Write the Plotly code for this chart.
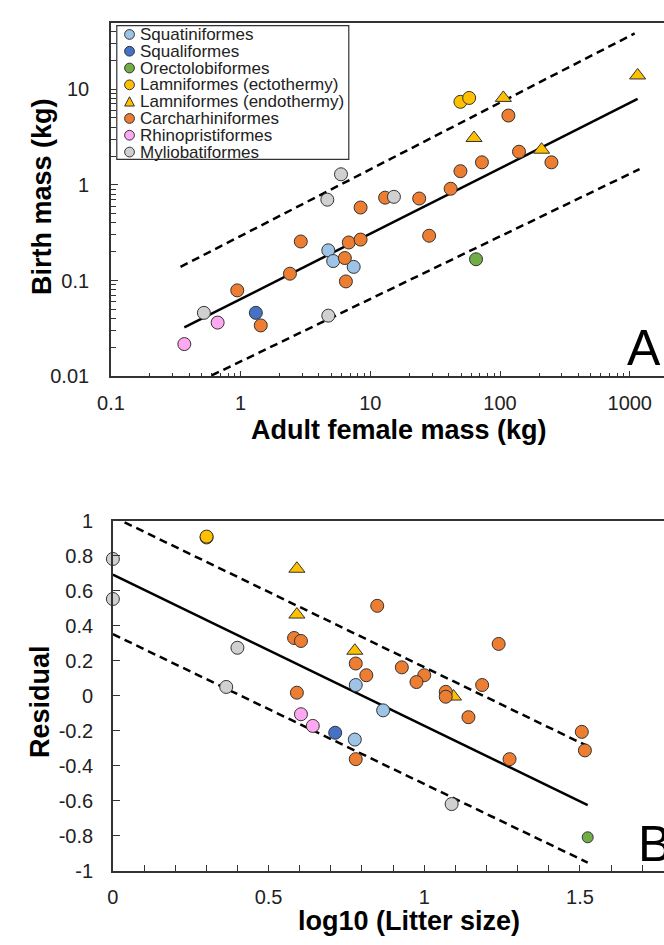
import plotly.graph_objects as go

# groups, colours and marker symbols
groups = ["Squatiniformes", "Squaliformes", "Orectolobiformes", "Lamniformes (ectothermy)",
          "Lamniformes (endothermy)", "Carcharhiniformes", "Rhinopristiformes", "Myliobatiformes"]
colors = ["#9DC3E6", "#4472C4", "#70AD47", "#FFC000", "#FFC000", "#ED7D31", "#FFA8F2", "#D0D0D0"]
symbols = ["circle", "circle", "circle", "circle", "triangle-up", "circle", "circle", "circle"]

# panel A: adult female mass (kg) vs birth mass (kg)
a_x = [
    [4.74, 5.17, 7.44],
    [1.31],
    [65.3],
    [49.5, 57.8],
    [63, 106, 209, 1150],
    [0.942, 1.43, 2.40, 2.91, 6.36, 6.48, 6.82, 8.41, 8.41, 13.0, 23.8, 28.4, 41.6, 49.5, 72.5, 116, 140, 249],
    [0.368, 0.665],
    [0.521, 4.74, 4.66, 5.94, 15.2],
]
a_y = [
    [0.207, 0.160, 0.139],
    [0.046],
    [0.167],
    [7.37, 8.09],
    [3.09, 8.1, 2.33, 13.9],
    [0.079, 0.034, 0.118, 0.256, 0.172, 0.098, 0.25, 0.268, 0.58, 0.735, 0.72, 0.294, 0.91, 1.39, 1.72, 5.3, 2.22, 1.72],
    [0.0217, 0.0364],
    [0.046, 0.043, 0.70, 1.29, 0.75],
]
a_fit_x = [0.368, 1150]
a_fit_y = [0.0324, 7.9]
a_up_x = [0.344, 1091]
a_up_y = [0.139, 38.2]
a_lo_x = [0.598, 1190]
a_lo_y = [0.0102, 1.46]

# panel B: log10(litter size) vs residual
b_x = [
    [0.78, 0.868, 0.777],
    [0.714],
    [1.525],
    [0.301, 0.301],
    [0.591, 0.591, 0.777, 1.094],
    [0.582, 0.604, 0.591, 0.849, 1.239, 0.780, 0.814, 0.928, 1.0, 0.975, 1.069, 1.069, 1.186, 1.142, 1.506, 1.516, 0.78, 1.274],
    [0.604, 0.642],
    [0, 0, 0.40, 0.364, 1.088],
]
b_y = [
    [0.061, -0.084, -0.251],
    [-0.212],
    [-0.81],
    [0.905, 0.91],
    [0.726, 0.464, 0.257, -0.005],
    [0.33, 0.313, 0.017, 0.514, 0.296, 0.184, 0.117, 0.162, 0.117, 0.078, 0.022, -0.006, 0.061, -0.123, -0.207, -0.313, -0.363, -0.363],
    [-0.106, -0.173],
    [0.782, 0.553, 0.274, 0.05, -0.62],
]
b_fit_x = [0, 1.525]
b_fit_y = [0.693, -0.626]
b_up_y = [1.024, -0.289]
b_lo_y = [0.352, -0.955]

a_xticks = [0.1, 1, 10, 100, 1000]
a_xtext = ["0.1", "1", "10", "100", "1000"]
a_yticks = [0.01, 0.1, 1, 10]
a_ytext = ["0.01", "0.1", "1", "10"]
b_xticks = [0, 0.5, 1, 1.5]
b_xtext = ["0", "0.5", "1", "1.5"]
b_yticks = [-1, -0.8, -0.6, -0.4, -0.2, 0, 0.2, 0.4, 0.6, 0.8, 1]
b_ytext = ["-1", "-0.8", "-0.6", "-0.4", "-0.2", "0", "0.2", "0.4", "0.6", "0.8", "1"]

W, H = 664, 945
FONT = "Arial, Liberation Sans, sans-serif"
EDGE = "#333333"

fig = go.Figure()

solid = dict(color="black", width=2.5)
dashed = dict(color="black", width=2.5, dash="8px,5px")
fig.add_trace(go.Scatter(x=a_fit_x, y=a_fit_y, mode="lines", line=solid, showlegend=False, xaxis="x", yaxis="y"))
fig.add_trace(go.Scatter(x=a_up_x, y=a_up_y, mode="lines", line=dashed, showlegend=False, xaxis="x", yaxis="y"))
fig.add_trace(go.Scatter(x=a_lo_x, y=a_lo_y, mode="lines", line=dashed, showlegend=False, xaxis="x", yaxis="y"))
fig.add_trace(go.Scatter(x=b_fit_x, y=b_fit_y, mode="lines", line=solid, showlegend=False, xaxis="x2", yaxis="y2"))
fig.add_trace(go.Scatter(x=b_fit_x, y=b_up_y, mode="lines", line=dashed, showlegend=False, xaxis="x2", yaxis="y2"))
fig.add_trace(go.Scatter(x=b_fit_x, y=b_lo_y, mode="lines", line=dashed, showlegend=False, xaxis="x2", yaxis="y2"))


def msize(i, small=False):
    if symbols[i] != "circle":
        return 14
    return 11 if small else 13


for i, g in enumerate(groups):
    fig.add_trace(go.Scatter(
        x=a_x[i], y=a_y[i], mode="markers", name=g, showlegend=False,
        xaxis="x", yaxis="y", cliponaxis=False,
        marker=dict(color=colors[i], symbol=symbols[i], size=msize(i),
                    line=dict(color=EDGE, width=1))))

for i, g in enumerate(groups):
    fig.add_trace(go.Scatter(
        x=b_x[i], y=b_y[i], mode="markers", name=g, showlegend=False,
        xaxis="x2", yaxis="y2", cliponaxis=False,
        marker=dict(color=colors[i], symbol=symbols[i], size=msize(i, g == "Orectolobiformes"),
                    line=dict(color=EDGE, width=1))))

axis_common = dict(showgrid=False, zeroline=False, showline=True, linecolor=EDGE, linewidth=1.5,
                   ticks="inside", tickcolor=EDGE, tickwidth=1.2,
                   tickfont=dict(family=FONT, size=20, color="#222"))

fig.update_layout(
    width=W, height=H, margin=dict(l=0, r=0, t=0, b=0),
    paper_bgcolor="white", plot_bgcolor="white",
    xaxis=dict(axis_common, type="log", domain=[99 / W, 1], range=[-1, 3.264], mirror=True,
               tickvals=a_xticks, ticktext=a_xtext, ticklen=6, ticklabelstandoff=8,
               minor=dict(ticks="inside", ticklen=4, dtick="D1", tickcolor=EDGE, showgrid=False),
               anchor="y"),
    yaxis=dict(axis_common, type="log", domain=[1 - 374 / H, 1 - 12 / H], range=[-2, 1.694],
               tickvals=a_yticks, ticktext=a_ytext, ticklen=7, ticklabelstandoff=16,
               minor=dict(ticks="inside", ticklen=5, dtick="D1", tickcolor=EDGE, showgrid=False),
               anchor="x"),
    xaxis2=dict(axis_common, domain=[101 / W, 1], range=[0, 1.770], mirror=True,
                tickvals=b_xticks, ticktext=b_xtext, ticklen=6, ticklabelstandoff=8,
                minor=dict(ticks="inside", ticklen=6, dtick=0.1, tickcolor=EDGE, showgrid=False),
                anchor="y2"),
    yaxis2=dict(axis_common, domain=[1 - 880 / H, 1 - 522 / H], range=[-1, 1],
                tickvals=b_yticks, ticktext=b_ytext, ticklen=7, ticklabelstandoff=14,
                anchor="x2"),
)

title_font = dict(family=FONT, size=27, color="black")
annotations = [
    dict(text="<b>Adult female mass (kg)</b>", x=393 / W, y=1 - 429 / H, font=title_font),
    dict(text="<b>Birth mass (kg)</b>", x=28 / W, y=1 - 190 / H, textangle=-90, font=title_font),
    dict(text="<b>log10 (Litter size)</b>", x=403 / W, y=1 - 932 / H, font=title_font),
    dict(text="<b>Residual</b>", x=26 / W, y=1 - 707 / H, textangle=-90, font=title_font),
    dict(text="A", x=644 / W, y=1 - 345 / H, font=dict(family=FONT, size=50, color="black")),
    dict(text="B", x=654 / W, y=1 - 853 / H, font=dict(family=FONT, size=50, color="black")),
]

# hand-made legend box (tight row spacing as in the original)
shapes = [dict(type="rect", xref="paper", yref="paper", x0=105 / W, x1=342 / W, y0=1 - 152 / H, y1=1 - 15 / H,
               line=dict(color=EDGE, width=1.2), fillcolor="white", layer="above")]
for i, g in enumerate(groups):
    cy = 24 + i * 17.2
    cx = 118
    if symbols[i] == "circle":
        shapes.append(dict(type="circle", xref="paper", yref="paper",
                           x0=(cx - 5) / W, x1=(cx + 5) / W, y0=1 - (cy + 5) / H, y1=1 - (cy - 5) / H,
                           fillcolor=colors[i], line=dict(color=EDGE, width=1), layer="above"))
    else:
        path = "M {:.5f},{:.5f} L {:.5f},{:.5f} L {:.5f},{:.5f} Z".format(
            (cx - 5) / W, 1 - (cy + 4.5) / H, (cx + 5) / W, 1 - (cy + 4.5) / H, cx / W, 1 - (cy - 5) / H)
        shapes.append(dict(type="path", xref="paper", yref="paper", path=path,
                           fillcolor=colors[i], line=dict(color=EDGE, width=1), layer="above"))
    annotations.append(dict(text=g, x=127 / W, y=1 - cy / H, xanchor="left",
                            font=dict(family=FONT, size=17, color="#222")))

for a in annotations:
    a.setdefault("xref", "paper")
    a.setdefault("yref", "paper")
    a.setdefault("xanchor", "center")
    a.setdefault("yanchor", "middle")
    a.setdefault("showarrow", False)
fig.update_layout(annotations=annotations, shapes=shapes)

# the page body has a default 8px margin; drop it so the figure sits at the window corner
fig.write_html("out.html", config={"displayModeBar": False},
               post_script="document.body.style.margin='0px';")
